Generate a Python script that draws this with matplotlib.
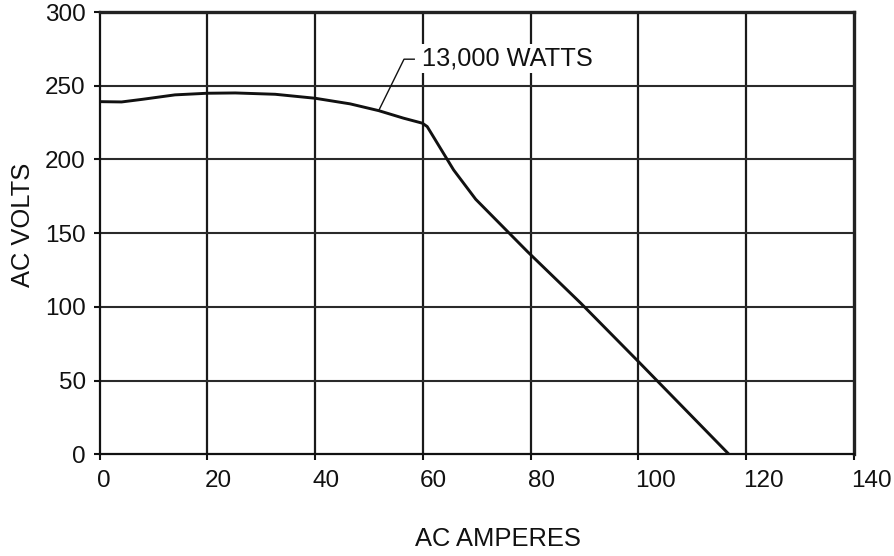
import matplotlib
matplotlib.use("Agg")
import matplotlib.pyplot as plt
from matplotlib.transforms import ScaledTranslation

amps = [0, 4.1, 8.0, 14.0, 20.0, 25.2, 32.6, 40.0, 46.5, 51.8, 56.4, 59.9, 60.8,
        65.7, 69.8, 79.4, 89.3, 100.1, 116.8]
volts = [239.2, 239.0, 240.8, 243.8, 244.9, 245.1, 244.2, 241.5, 237.7, 233.1, 228.0,
         224.6, 222.3, 192.9, 173.0, 137.5, 102.5, 62.5, 0]
xticks = [0, 20, 40, 60, 80, 100, 120, 140]
yticks = [0, 50, 100, 150, 200, 250, 300]
label_text = "13,000 WATTS"

plt.rcParams['font.family'] = ['Liberation Sans', 'DejaVu Sans']

fig = plt.figure(figsize=(8.95, 5.56), dpi=100)
ax = fig.add_axes([0.1112, 0.1829, 0.9542 - 0.1112, 0.9784 - 0.1829])
ax.set_xlim(0, 140)
ax.set_ylim(0, 300)
ax.set_xticks(xticks)
ax.set_yticks(yticks)
ax.tick_params(axis='both', labelsize=17.5, colors='#111111', length=4, width=1.5)
ax.tick_params(axis='x', pad=7)
ax.tick_params(axis='y', pad=6)
for lab in ax.get_yticklabels():
    lab.set_verticalalignment('center_baseline')
shift = ScaledTranslation(-3 / 100, 0, fig.dpi_scale_trans)
for lab in ax.get_xticklabels():
    lab.set_horizontalalignment('left')
    lab.set_transform(lab.get_transform() + shift)

for v in xticks[1:-1]:
    ax.axvline(v, color='#1a1a1a', lw=1.6, zorder=1)
for v in yticks[1:-1]:
    ax.axhline(v, color='#2a2a2a', lw=1.5, zorder=1)

for s in ['left', 'bottom']:
    ax.spines[s].set_linewidth(1.6)
    ax.spines[s].set_color('#111111')
for s in ['top', 'right']:
    ax.spines[s].set_linewidth(2.4)
    ax.spines[s].set_color('#222222')

ax.plot(amps, volts, color='#111111', lw=2.1, zorder=3, solid_capstyle='butt')

# label leader line
x0, y0 = 51.8, 233.1
ax.plot([x0, 56.5, 58.4], [y0, 268.0, 268.0], color='#111111', lw=1.0, zorder=3)
ax.text(59.8, 268.5, label_text, fontsize=18.3, va='center', ha='left', color='#111111',
        zorder=4, bbox=dict(facecolor='white', edgecolor='none', pad=2))

fig.text(23 / 895, 1 - 225 / 556, "AC VOLTS", rotation=90, fontsize=18.4,
         va='center', ha='center', color='#111111')
fig.text(415 / 895, 1 - 539 / 556, "AC AMPERES", fontsize=18.4,
         va='center', ha='left', color='#111111')

fig.savefig("out.png", dpi=100)
